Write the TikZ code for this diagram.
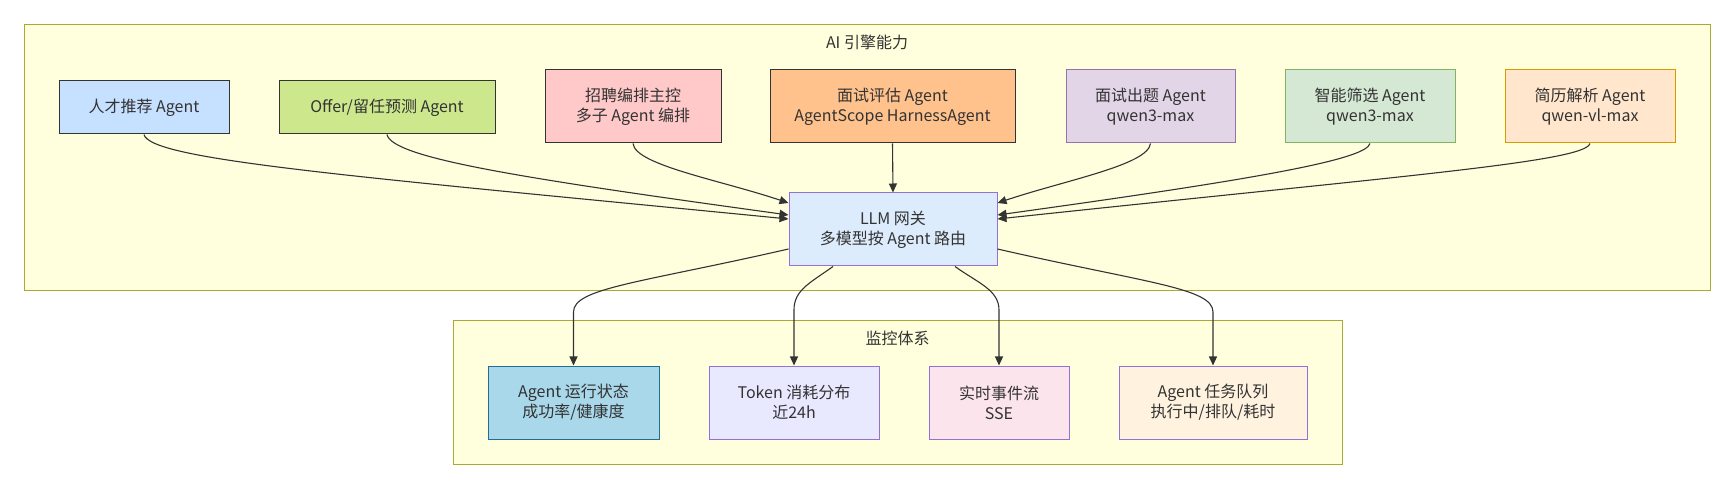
\documentclass[tikz,border=0pt]{standalone}
\usepackage{fontspec}
\setmainfont{Noto Sans CJK SC}
\usetikzlibrary{arrows.meta}
\definecolor{clfill}{HTML}{FFFFDE}
\definecolor{clline}{HTML}{AAAA33}
\definecolor{txt}{HTML}{333333}
\definecolor{edge}{HTML}{333333}
\definecolor{cA}{HTML}{C6E0FF}
\definecolor{cB}{HTML}{CDE88C}
\definecolor{cC}{HTML}{FFC9C9}
\definecolor{cD}{HTML}{FFC28C}
\definecolor{cE}{HTML}{E1D5E7}\definecolor{sE}{HTML}{9673A6}
\definecolor{cF}{HTML}{D5E8D4}\definecolor{sF}{HTML}{82B366}
\definecolor{cG}{HTML}{FFE6CC}\definecolor{sG}{HTML}{D79B00}
\definecolor{cL}{HTML}{DDECFD}\definecolor{purp}{HTML}{9370DB}
\definecolor{cM}{HTML}{A8D8EA}\definecolor{sM}{HTML}{1F6F94}
\definecolor{cN}{HTML}{E8E8FF}
\definecolor{cO}{HTML}{FCE4EC}
\definecolor{cP}{HTML}{FFF3E0}
\tikzset{
  cluster/.style={draw=clline, fill=clfill, line width=1pt},
  box/.style={draw, line width=1pt, inner sep=0pt, align=center, text=txt,
    font=\fontsize{16pt}{20pt}\selectfont},
  arr/.style={draw=edge, line width=1.1pt, -{Triangle[length=9pt,width=8pt]}},
  ttl/.style={text=txt, font=\fontsize{16pt}{20pt}\selectfont}
}
\begin{document}
\begin{tikzpicture}[x=1pt,y=-1pt]
\useasboundingbox (0,0) rectangle (1730,486);
% clusters
\draw[cluster] (24,25) rectangle (1710,291);
\node[ttl] (t1) at (867,42) {AI 引擎能力};
\draw[cluster] (453,321) rectangle (1342,464);
\node[ttl] (t2) at (897.5,338) {监控体系};
% top row
\node[box, draw=edge, fill=cA, minimum width=170pt, minimum height=53pt] (n1) at (144,107.5) {人才推荐 Agent};
\node[box, draw=edge, fill=cB, minimum width=216pt, minimum height=53pt] (n2) at (387,107.5) {Offer/留任预测 Agent};
\node[box, draw=edge, fill=cC, minimum width=176pt, minimum height=73pt] (n3) at (633,106.5) {招聘编排主控\\多子 Agent 编排};
\node[box, draw=edge, fill=cD, minimum width=245pt, minimum height=73pt] (n4) at (892.5,106.5) {面试评估 Agent\\AgentScope HarnessAgent};
\node[box, draw=sE, fill=cE, minimum width=169pt, minimum height=73pt] (n5) at (1150.5,106.5) {面试出题 Agent\\qwen3-max};
\node[box, draw=sF, fill=cF, minimum width=170pt, minimum height=73pt] (n6) at (1370,106.5) {智能筛选 Agent\\qwen3-max};
\node[box, draw=sG, fill=cG, minimum width=170pt, minimum height=73pt] (n7) at (1590,106.5) {简历解析 Agent\\qwen-vl-max};
% gateway
\node[box, draw=purp, fill=cL, minimum width=208pt, minimum height=73pt] (llm) at (893,229.5) {LLM 网关\\多模型按 Agent 路由};
% bottom row
\node[box, draw=sM, fill=cM, minimum width=171pt, minimum height=73pt] (m1) at (573.5,402.5) {Agent 运行状态\\成功率/健康度};
\node[box, draw=purp, fill=cN, minimum width=170pt, minimum height=73pt] (m2) at (794,402.5) {Token 消耗分布\\近24h};
\node[box, draw=purp, fill=cO, minimum width=140pt, minimum height=73pt] (m3) at (999,402.5) {实时事件流\\SSE};
\node[box, draw=purp, fill=cP, minimum width=188pt, minimum height=73pt] (m4) at (1213,402.5) {Agent 任务队列\\执行中/排队/耗时};
% edges in
\draw[arr] (n1.south) .. controls (150,160) and (350,176) .. ([yshift=10.5pt]llm.west);
\draw[arr] (n2.south) .. controls (392,158) and (520,178) .. ([yshift=14.5pt]llm.west);
\draw[arr] (n3.south) .. controls (635,165) and (720,180) .. ([yshift=26.5pt]llm.west);
\draw[arr] (n4.south) -- (llm.north);
\draw[arr] (n5.south) .. controls (1148,165) and (1066,180) .. ([yshift=26.5pt]llm.east);
\draw[arr] (n6.south) .. controls (1366,160) and (1250,180) .. ([yshift=14.5pt]llm.east);
\draw[arr] (n7.south) .. controls (1585,162) and (1400,176) .. ([yshift=10.5pt]llm.east);
% edges out
\draw[arr] ([yshift=-19.5pt]llm.west) .. controls (640,283) and (573.5,288) .. (573.5,312) -- (m1.north);
\draw[arr] ([xshift=-60pt]llm.south) .. controls (810,283) and (794,290) .. (794,310) -- (m2.north);
\draw[arr] ([xshift=62pt]llm.south) .. controls (978,283) and (999,290) .. (999,310) -- (m3.north);
\draw[arr] ([yshift=-19.5pt]llm.east) .. controls (1146,283) and (1213,288) .. (1213,312) -- (m4.north);
\end{tikzpicture}
\end{document}
